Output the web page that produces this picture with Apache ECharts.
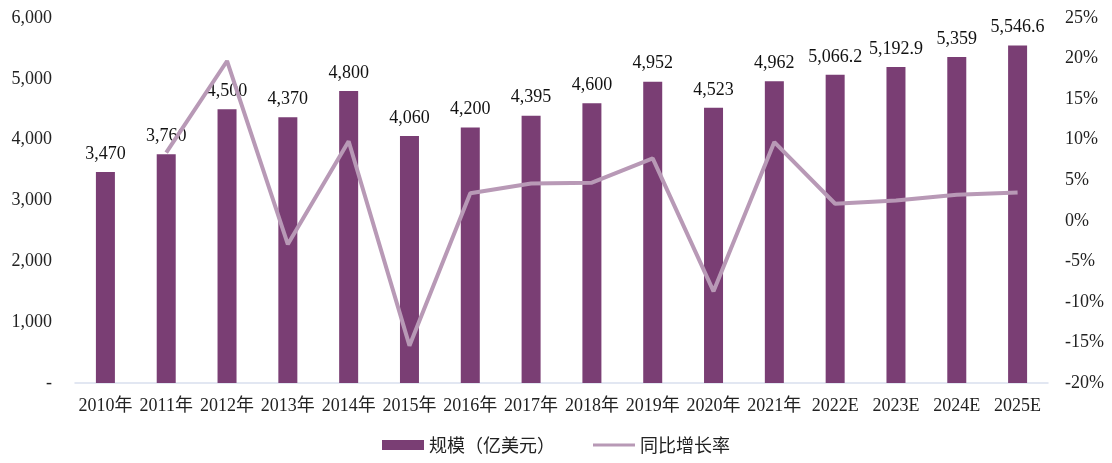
<!DOCTYPE html>
<html>
<head>
<meta charset="utf-8">
<script src="https://cdn.jsdelivr.net/npm/echarts@6/dist/echarts.min.js"></script>
<style>
  html, body { margin: 0; padding: 0; background: #ffffff; }
  #chart { width: 1112px; height: 463px; }
</style>
</head>
<body>
<div id="chart"></div>
<script>
// Market size (100 million USD) and year-on-year growth, 2010–2025E
const categories = ['2010年', '2011年', '2012年', '2013年', '2014年', '2015年', '2016年', '2017年',
  '2018年', '2019年', '2020年', '2021年', '2022E', '2023E', '2024E', '2025E'];
const scaleValues = [3470, 3760, 4500, 4370, 4800, 4060, 4200, 4395,
  4600, 4952, 4523, 4962, 5066.2, 5192.9, 5359, 5546.6];
// growth rate in percent; no value for the first year
const growthValues = [null, 8.4, 19.7, -2.9, 9.8, -15.4, 3.4, 4.6,
  4.7, 7.7, -8.7, 9.7, 2.1, 2.5, 3.2, 3.5];
const seriesNames = ['规模（亿美元）', '同比增长率'];

const serif = '"Liberation Serif", "Times New Roman", "Noto Sans CJK SC", serif';
const barColor = '#7a3e74';
const lineColor = '#b899b6';
// thin horizontal stroke for the growth-rate legend key; the corner points keep a 42x10 box
const lineKeyIcon = 'path://M0,0 L0.01,0 M0,3.5 L42,3.5 L42,6.5 L0,6.5 Z M41.99,10 L42,10';

function thousands(v) {
  const parts = String(v).split('.');
  parts[0] = parts[0].replace(/\B(?=(\d{3})+(?!\d))/g, ',');
  return parts.join('.');
}

const chart = echarts.init(document.getElementById('chart'), null, { renderer: 'canvas' });
chart.setOption({
  animation: false,
  backgroundColor: '#ffffff',
  grid: { left: 75, right: 64, top: 18, bottom: 80, containLabel: false },
  legend: {
    bottom: 4,
    left: 'center',
    itemWidth: 42,
    itemHeight: 10,
    itemGap: 38,
    textStyle: { fontFamily: '"Noto Sans CJK SC", sans-serif', fontSize: 18, color: '#222' },
    data: [
      { name: seriesNames[0], icon: 'rect' },
      { name: seriesNames[1], icon: lineKeyIcon, itemStyle: { color: lineColor } }
    ]
  },
  xAxis: {
    type: 'category',
    data: categories,
    axisTick: { show: false },
    axisLine: { lineStyle: { color: '#d9dfee', width: 1.5 } },
    axisLabel: { fontFamily: serif, fontSize: 18, color: '#222', margin: 14, interval: 0 }
  },
  yAxis: [
    {
      type: 'value',
      min: 0, max: 6000, interval: 1000,
      splitLine: { show: false },
      axisLine: { show: false },
      axisTick: { show: false },
      axisLabel: {
        fontFamily: serif, fontSize: 18, color: '#222', margin: 23,
        formatter: v => v === 0 ? '-' : thousands(v)
      }
    },
    {
      type: 'value',
      min: -20, max: 25, interval: 5,
      splitLine: { show: false },
      axisLine: { show: false },
      axisTick: { show: false },
      axisLabel: {
        fontFamily: serif, fontSize: 18, color: '#222', margin: 17,
        formatter: v => v + '%'
      }
    }
  ],
  series: [
    {
      name: seriesNames[0],
      type: 'bar',
      yAxisIndex: 0,
      data: scaleValues,
      barWidth: 19,
      itemStyle: { color: barColor },
      label: {
        show: true,
        position: 'top',
        distance: 9,
        fontFamily: serif,
        fontSize: 18,
        color: '#111',
        formatter: p => thousands(p.value)
      },
      z: 2
    },
    {
      name: seriesNames[1],
      type: 'line',
      yAxisIndex: 1,
      data: growthValues,
      symbol: 'none',
      lineStyle: { color: lineColor, width: 4 },
      itemStyle: { color: lineColor },
      z: 3
    }
  ]
});
</script>
</body>
</html>
